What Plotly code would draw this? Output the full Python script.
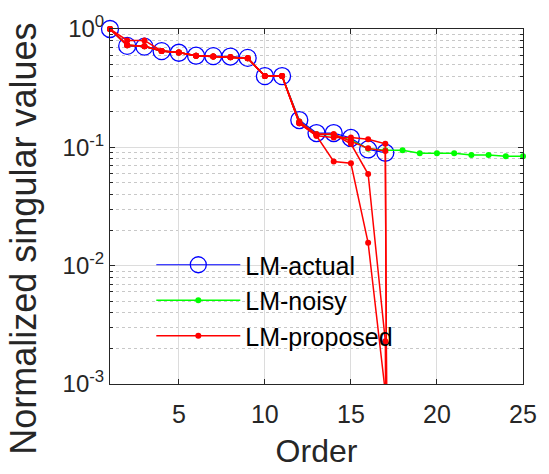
import plotly.graph_objects as go

# ---- data ----
order_actual = list(range(1, 18))
actual = [1.0, 0.72, 0.71, 0.65, 0.63, 0.595, 0.59, 0.585, 0.57, 0.40, 0.40,
          0.17, 0.132, 0.132, 0.12, 0.096, 0.090]

order_noisy = list(range(1, 26))
noisy = [1.0, 0.73, 0.715, 0.652, 0.633, 0.594, 0.587, 0.578, 0.566, 0.40, 0.40,
         0.165, 0.129, 0.128, 0.115, 0.0975, 0.0945, 0.0945, 0.089, 0.089, 0.089,
         0.086, 0.086, 0.084, 0.084]

order_prop = list(range(1, 19))
proposed_runs = [
    [1.0, 0.73, 0.716, 0.652, 0.633, 0.594, 0.587, 0.576, 0.565, 0.40, 0.40,
     0.165, 0.129, 0.129, 0.113, 0.098, 0.093, 1e-30],
    [1.0, 0.80, 0.80, 0.652, 0.633, 0.594, 0.587, 0.58, 0.565, 0.40, 0.40,
     0.16, 0.125, 0.121, 0.121, 0.117, 0.107, 1e-30],
    [1.0, 0.73, 0.716, 0.652, 0.633, 0.594, 0.587, 0.576, 0.565, 0.40, 0.40,
     0.16, 0.129, 0.129, 0.107, 0.0595, 0.0023, 1e-30],
    [1.0, 0.73, 0.716, 0.652, 0.633, 0.594, 0.587, 0.576, 0.565, 0.40, 0.40,
     0.16, 0.125, 0.076, 0.0734, 0.0156, 0.00085, 1e-30],
]

x_ticks = [5, 10, 15, 20, 25]
y_ticks = [1, 0.1, 0.01, 0.001]
y_ticktext = ["10<sup>0</sup>", "10<sup>-1</sup>", "10<sup>-2</sup>", "10<sup>-3</sup>"]
y_minor = [m * 10.0 ** e for e in (-3, -2, -1) for m in range(2, 10)]

FONT = "Liberation Sans, Arial, sans-serif"
AX = "#262626"

fig = go.Figure()

fig.add_trace(go.Scatter(
    x=order_actual, y=actual, name="LM-actual", mode="lines+markers",
    line=dict(color="#0000ff", width=1.2),
    marker=dict(symbol="circle-open", size=17, color="#0000ff", line=dict(width=1.3)),
    cliponaxis=False))

fig.add_trace(go.Scatter(
    x=order_noisy, y=noisy, name="LM-noisy", mode="lines+markers",
    line=dict(color="#00ff00", width=1.5),
    marker=dict(symbol="circle", size=6, color="#00ff00"),
    cliponaxis=False))

for i, run in enumerate(proposed_runs):
    fig.add_trace(go.Scatter(
        x=order_prop, y=run, name="LM-proposed", mode="lines+markers",
        legendgroup="prop", showlegend=(i == 0),
        line=dict(color="#ff0000", width=1.5),
        marker=dict(symbol="circle", size=6, color="#ff0000"),
        cliponaxis=False))

fig.update_layout(
    width=549, height=474,
    margin=dict(l=110, r=15, t=19, b=88),
    paper_bgcolor="white", plot_bgcolor="white",
    font=dict(family=FONT, color=AX),
    legend=dict(x=0.1, y=0.4, xanchor="left", yanchor="top",
                bgcolor="rgba(0,0,0,0)", borderwidth=0,
                font=dict(size=25, family=FONT, color="black"),
                itemwidth=84, tracegroupgap=0),
    showlegend=True,
    annotations=[dict(
        text="Normalized singular values", textangle=-90,
        xref="paper", yref="paper", x=-0.21, y=0.41,
        xanchor="center", yanchor="middle", showarrow=False,
        font=dict(size=36, family=FONT, color=AX))],
)

fig.update_xaxes(
    range=[1, 25], tickvals=x_ticks, ticks="inside", ticklen=5, tickcolor=AX,
    showline=True, linecolor=AX, linewidth=1, mirror="allticks",
    showgrid=True, gridcolor="#dcdcdc", gridwidth=1, zeroline=False,
    tickfont=dict(size=25, family=FONT, color=AX), ticklabelstandoff=8,
    title=dict(text="Order", font=dict(size=32, family=FONT, color=AX), standoff=12),
)

fig.update_yaxes(
    type="log", range=[-3, 0], tickvals=y_ticks, ticktext=y_ticktext,
    ticks="inside", ticklen=5, tickcolor=AX,
    showline=True, linecolor=AX, linewidth=1, mirror="allticks",
    showgrid=True, gridcolor="#dcdcdc", gridwidth=1, zeroline=False,
    tickfont=dict(size=24, family=FONT, color=AX),
    minor=dict(tickmode="array", tickvals=y_minor, ticks="inside", ticklen=3,
               tickcolor=AX, showgrid=True, gridcolor="#c8c8c8", griddash="dot",
               gridwidth=1),
)

fig.write_html("out.html")
